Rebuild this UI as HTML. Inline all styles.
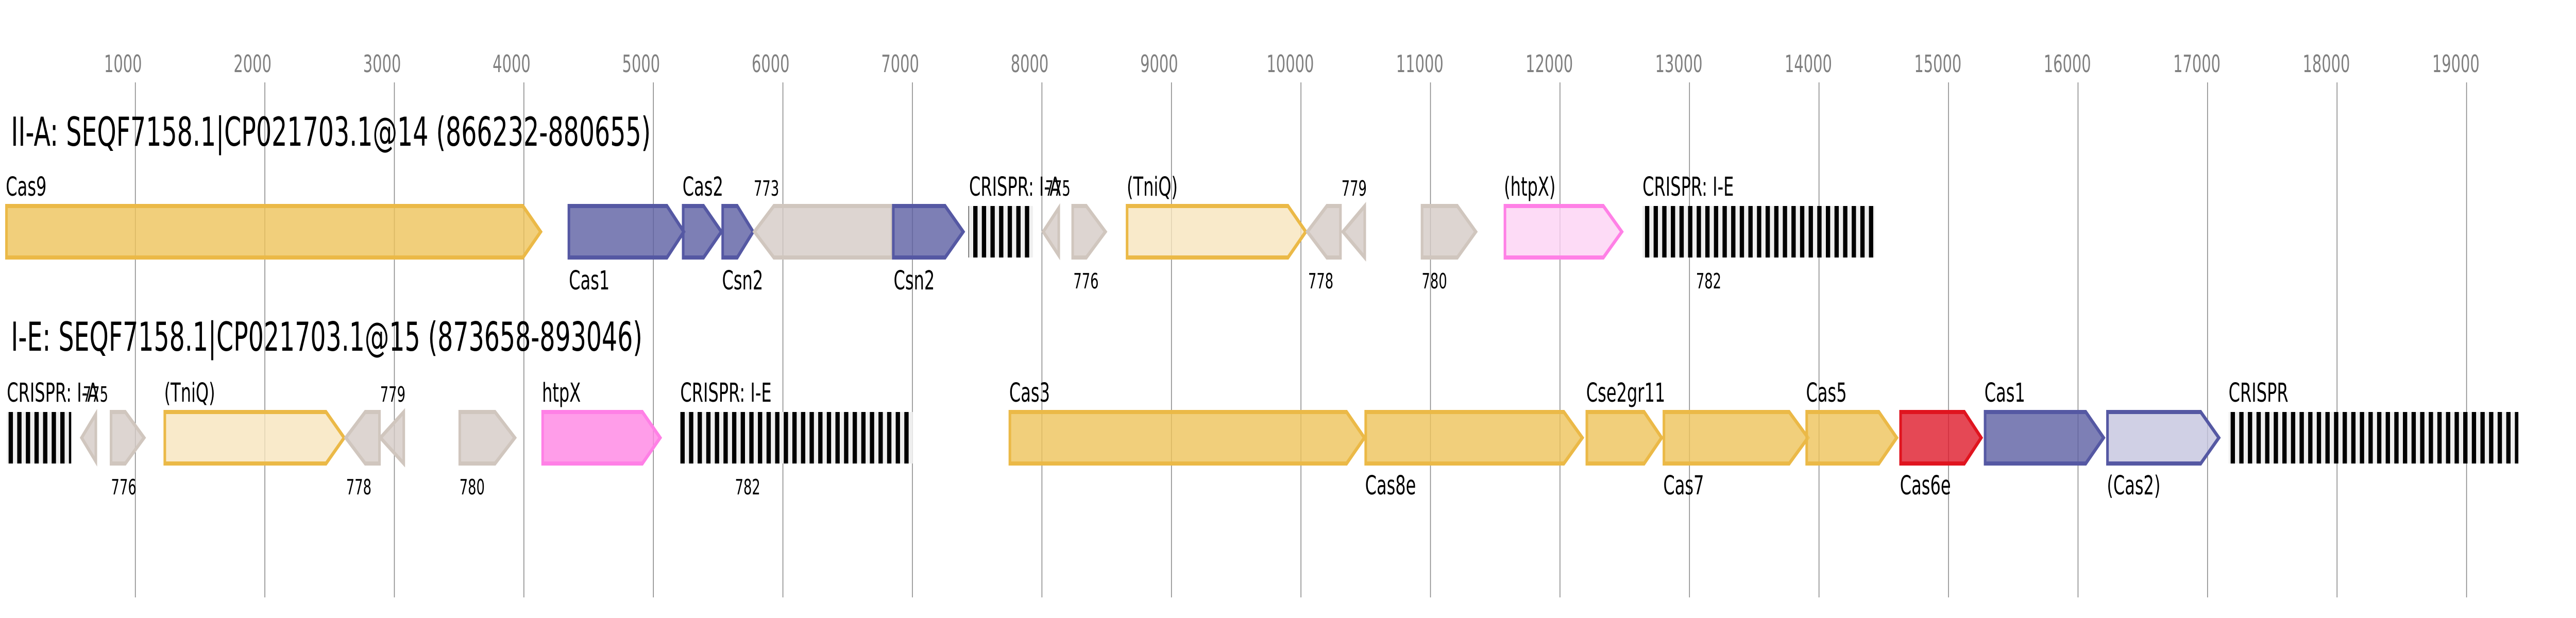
<!DOCTYPE html>
<html><head><meta charset="utf-8"><style>html,body{margin:0;padding:0;background:#fff;width:100vw;height:100vh;overflow:hidden}svg{display:block;width:100vw;height:100vh}</style></head>
<body>
<svg viewBox="0 0 7956 1200" preserveAspectRatio="none" xmlns="http://www.w3.org/2000/svg" font-family="DejaVu Sans, Liberation Sans, sans-serif">
<defs>
<pattern id="arr" x="0" y="0" width="26.6" height="100" patternUnits="userSpaceOnUse">
<rect x="0" y="0" width="26.6" height="100" fill="#efefef"/><rect x="0" y="0" width="13.3" height="100" fill="#000"/>
</pattern>
</defs>
<g stroke="#888" stroke-width="2.5">
<line x1="418" y1="160" x2="418" y2="1160"/><line x1="818" y1="160" x2="818" y2="1160"/><line x1="1218" y1="160" x2="1218" y2="1160"/><line x1="1618" y1="160" x2="1618" y2="1160"/><line x1="2018" y1="160" x2="2018" y2="1160"/><line x1="2418" y1="160" x2="2418" y2="1160"/><line x1="2818" y1="160" x2="2818" y2="1160"/><line x1="3218" y1="160" x2="3218" y2="1160"/><line x1="3618" y1="160" x2="3618" y2="1160"/><line x1="4018" y1="160" x2="4018" y2="1160"/><line x1="4418" y1="160" x2="4418" y2="1160"/><line x1="4818" y1="160" x2="4818" y2="1160"/><line x1="5218" y1="160" x2="5218" y2="1160"/><line x1="5618" y1="160" x2="5618" y2="1160"/><line x1="6018" y1="160" x2="6018" y2="1160"/><line x1="6418" y1="160" x2="6418" y2="1160"/><line x1="6818" y1="160" x2="6818" y2="1160"/><line x1="7218" y1="160" x2="7218" y2="1160"/><line x1="7618" y1="160" x2="7618" y2="1160"/>
</g>
<g fill="#808080" font-size="46" text-anchor="middle">
<text x="380" y="140">1000</text><text x="780" y="140">2000</text><text x="1180" y="140">3000</text><text x="1580" y="140">4000</text><text x="1980" y="140">5000</text><text x="2380" y="140">6000</text><text x="2780" y="140">7000</text><text x="3180" y="140">8000</text><text x="3580" y="140">9000</text><text x="3985" y="140">10000</text><text x="4385" y="140">11000</text><text x="4785" y="140">12000</text><text x="5185" y="140">13000</text><text x="5585" y="140">14000</text><text x="5985" y="140">15000</text><text x="6385" y="140">16000</text><text x="6785" y="140">17000</text><text x="7185" y="140">18000</text><text x="7585" y="140">19000</text>
</g>
<g font-size="78" fill="#000">
<text x="34" y="283" textLength="1976" lengthAdjust="spacingAndGlyphs">II-A: SEQF7158.1|CP021703.1@14 (866232-880655)</text>
<text x="34" y="681" textLength="1950" lengthAdjust="spacingAndGlyphs">I-E: SEQF7158.1|CP021703.1@15 (873658-893046)</text>
</g>
<g stroke-width="8" stroke-linejoin="miter" fill-opacity="0.8">
<polygon points="20,400 1615,400 1670,450 1615,500 20,500" fill="#edc35a" stroke="#ebb947"/>
<polygon points="1757,400 2060,400 2112,450 2060,500 1757,500" fill="#5c5fa3" stroke="#5558a3"/>
<polygon points="2110,400 2173,400 2228,450 2173,500 2110,500" fill="#5c5fa3" stroke="#5558a3"/>
<polygon points="2232,400 2277,400 2326,450 2277,500 2232,500" fill="#5c5fa3" stroke="#5558a3"/>
<polygon points="2330,450 2390,400 2755,400 2755,500 2390,500" fill="#d4cbc5" stroke="#d0c6be"/>
<polygon points="2759,400 2919,400 2975,450 2919,500 2759,500" fill="#5c5fa3" stroke="#5558a3"/>
<polygon points="3222,450 3270,404 3270,496" fill="#d4cbc5" stroke="#d0c6be"/>
<polygon points="3313,400 3355,400 3414,450 3355,500 3313,500" fill="#d4cbc5" stroke="#d0c6be"/>
<polygon points="3481,400 3978,400 4033,450 3978,500 3481,500" fill="#f8e5bd" stroke="#ebb947"/>
<polygon points="4038,450 4098,400 4140,400 4140,500 4098,500" fill="#d4cbc5" stroke="#d0c6be"/>
<polygon points="4148,450 4215,400 4215,500" fill="#d4cbc5" stroke="#d0c6be"/>
<polygon points="4392,400 4501,400 4558,450 4501,500 4392,500" fill="#d4cbc5" stroke="#d0c6be"/>
<polygon points="4648,400 4952,400 5009,450 4952,500 4648,500" fill="#fdd2f4" stroke="#ff80e6"/>
<polygon points="252,850 296,804 296,896" fill="#d4cbc5" stroke="#d0c6be"/>
<polygon points="343,800 387,800 445,850 387,900 343,900" fill="#d4cbc5" stroke="#d0c6be"/>
<polygon points="509,800 1007,800 1063,850 1007,900 509,900" fill="#f8e5bd" stroke="#ebb947"/>
<polygon points="1068,850 1128,800 1172,800 1172,900 1128,900" fill="#d4cbc5" stroke="#d0c6be"/>
<polygon points="1175,850 1247,800 1247,900" fill="#d4cbc5" stroke="#d0c6be"/>
<polygon points="1420,800 1529,800 1590,850 1529,900 1420,900" fill="#d4cbc5" stroke="#d0c6be"/>
<polygon points="1676,800 1984,800 2039,850 1984,900 1676,900" fill="#ff85e4" stroke="#ff80e6"/>
<polygon points="3119,800 4159,800 4214,850 4159,900 3119,900" fill="#edc35a" stroke="#ebb947"/>
<polygon points="4218,800 4830,800 4887,850 4830,900 4218,900" fill="#edc35a" stroke="#ebb947"/>
<polygon points="4901,800 5078,800 5132,850 5078,900 4901,900" fill="#edc35a" stroke="#ebb947"/>
<polygon points="5139,800 5526,800 5584,850 5526,900 5139,900" fill="#edc35a" stroke="#ebb947"/>
<polygon points="5580,800 5803,800 5858,850 5803,900 5580,900" fill="#edc35a" stroke="#ebb947"/>
<polygon points="5870,800 6067,800 6119,850 6067,900 5870,900" fill="#de1a2a" stroke="#e0141f"/>
<polygon points="6131,800 6442,800 6497,850 6442,900 6131,900" fill="#5c5fa3" stroke="#5558a3"/>
<polygon points="6509,800 6797,800 6853,850 6797,900 6509,900" fill="#c4c4df" stroke="#5558a3"/>
</g>
<g fill="url(#arr)">
<rect x="2991" y="400" width="199" height="100"/>
<rect x="5073" y="400" width="718" height="100"/>
<rect x="21" y="800" width="199" height="100"/>
<rect x="2101" y="800" width="718" height="100"/>
<rect x="6883" y="800" width="895" height="100"/>
</g>
<g font-size="51" fill="#000">
<text x="18" y="380">Cas9</text>
<text x="1757" y="562">Cas1</text>
<text x="2108" y="380">Cas2</text>
<text x="2230" y="562">Csn2</text>
<text x="2760" y="562">Csn2</text>
<text x="2993" y="380">CRISPR: I-A</text>
<text x="3480" y="380">(TniQ)</text>
<text x="4645" y="380">(htpX)</text>
<text x="5073" y="380">CRISPR: I-E</text>
<text x="21" y="780">CRISPR: I-A</text>
<text x="507" y="780">(TniQ)</text>
<text x="1674" y="780">htpX</text>
<text x="2101" y="780">CRISPR: I-E</text>
<text x="3117" y="780">Cas3</text>
<text x="4216" y="960">Cas8e</text>
<text x="4899" y="780">Cse2gr11</text>
<text x="5137" y="960">Cas7</text>
<text x="5578" y="780">Cas5</text>
<text x="5868" y="960">Cas6e</text>
<text x="6129" y="780">Cas1</text>
<text x="6507" y="960">(Cas2)</text>
<text x="6883" y="780">CRISPR</text>
</g>
<g font-size="41" fill="#000">
<text x="2328" y="380">773</text>
<text x="3228" y="380">775</text>
<text x="3315" y="560">776</text>
<text x="4040" y="560">778</text>
<text x="4143" y="380">779</text>
<text x="4391" y="560">780</text>
<text x="5238" y="560">782</text>
<text x="256" y="780">775</text>
<text x="343" y="960">776</text>
<text x="1069" y="960">778</text>
<text x="1174" y="780">779</text>
<text x="1419" y="960">780</text>
<text x="2270" y="960">782</text>
</g>
</svg>
</body></html>
